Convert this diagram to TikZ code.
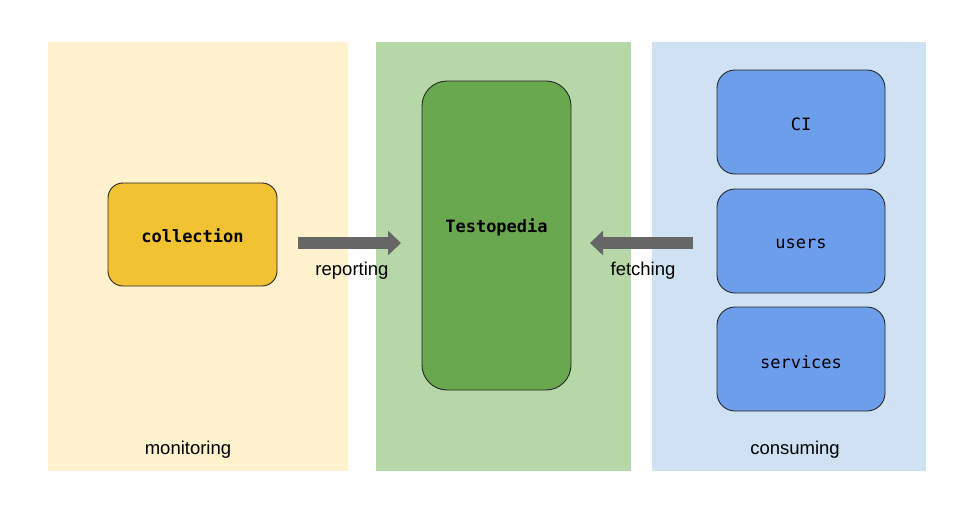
\documentclass[tikz,border=0pt]{standalone}
\usepackage{fontspec}
\setmainfont{Liberation Sans}
\setmonofont{DejaVu Sans Mono}
\usetikzlibrary{arrows.meta}
\definecolor{panelY}{HTML}{FFF2CC}
\definecolor{panelG}{HTML}{B6D7A8}
\definecolor{panelB}{HTML}{CFE2F3}
\definecolor{boxY}{HTML}{F1C232}
\definecolor{boxG}{HTML}{6AA84F}
\definecolor{boxB}{HTML}{6D9EEB}
\definecolor{arrowgray}{HTML}{666666}
\tikzset{
  panel/.style={anchor=north west, inner sep=0pt, draw=none},
  box/.style={draw=black!85, line width=0.9pt, inner sep=0pt},
  boxtext/.style={font=\fontsize{17}{20}\selectfont\ttfamily, inner sep=0pt},
  lbl/.style={font=\fontsize{18.5}{21}\selectfont, inner sep=0pt},
  bigarrow/.style={draw=arrowgray, line width=12pt, -{Triangle[length=13pt,width=24pt]}}
}
\begin{document}
\begin{tikzpicture}[x=1pt,y=-1pt]
\useasboundingbox[fill=white] (0,0) rectangle (954,530);
% panels
\node[panel, fill=panelY, minimum width=300pt, minimum height=429pt] (pmon) at (48,42) {};
\node[panel, fill=panelG, minimum width=255pt, minimum height=429pt] (ptest) at (376,42) {};
\node[panel, fill=panelB, minimum width=274pt, minimum height=429pt] (pcons) at (652,42) {};
% boxes
\node[box, fill=boxY, rounded corners=15pt, minimum width=169pt, minimum height=103pt,
  label={[boxtext, font=\fontsize{17}{20}\selectfont\ttfamily\bfseries, yshift=-1pt]center:collection}] (coll) at (192.5,234.5) {};
\node[box, fill=boxG, rounded corners=25pt, minimum width=149pt, minimum height=309pt,
  label={[boxtext, font=\fontsize{17}{20}\selectfont\ttfamily\bfseries, yshift=8.5pt]center:Testopedia}] (testo) at (496.5,235.5) {};
\node[box, fill=boxB, rounded corners=18pt, minimum width=168pt, minimum height=104pt,
  label={[boxtext, yshift=-2pt]center:CI}] (ci) at (801,122) {};
\node[box, fill=boxB, rounded corners=18pt, minimum width=168pt, minimum height=104pt,
  label={[boxtext, yshift=-3pt]center:users}] (users) at (801,241) {};
\node[box, fill=boxB, rounded corners=18pt, minimum width=168pt, minimum height=104pt,
  label={[boxtext, yshift=-3pt]center:services}] (serv) at (801,359) {};
% arrows
\coordinate (rs) at (298,243);
\coordinate (re) at (401,243);
\coordinate (fs) at (693,243);
\coordinate (fe) at (590,243);
\draw[bigarrow] (rs) -- (re);
\draw[bigarrow] (fs) -- (fe);
\node[lbl] (lrep) at (352,271) {reporting};
\node[lbl] (lfet) at (643,271) {fetching};
% panel labels
\node[lbl] (lmon) at (188,449.5) {monitoring};
\node[lbl] (lcons) at (795,449.5) {consuming};
\end{tikzpicture}
\end{document}
